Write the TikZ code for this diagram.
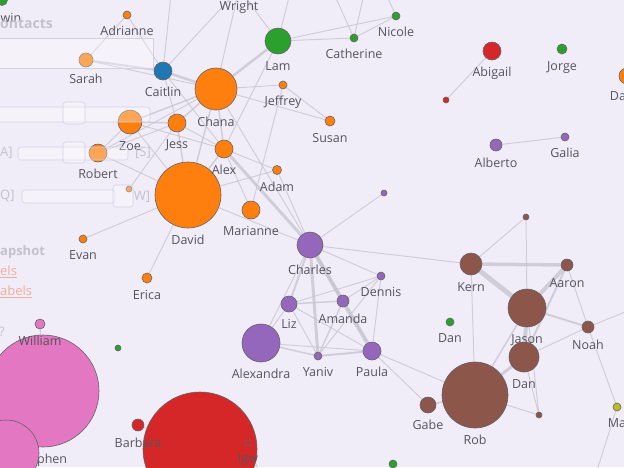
\documentclass[tikz,border=0pt]{standalone}
\usepackage{xcolor}
\usepackage{fontspec}
\setmainfont{Open Sans}
\usepackage{tikz}
\usetikzlibrary{positioning}

\definecolor{canvas}{RGB}{241,237,248}
\definecolor{edgegray}{RGB}{198,194,208}
\definecolor{ink}{RGB}{85,84,92}
\definecolor{rim}{RGB}{100,98,104}
\definecolor{ctorange}{RGB}{255,127,14}
\definecolor{ctblue}{RGB}{31,119,180}
\definecolor{ctgreen}{RGB}{44,160,44}
\definecolor{ctred}{RGB}{214,39,40}
\definecolor{ctpurple}{RGB}{148,103,189}
\definecolor{ctbrown}{RGB}{140,86,75}
\definecolor{ctpink}{RGB}{227,119,194}
\definecolor{ctolive}{RGB}{188,189,34}
\definecolor{uitext}{RGB}{196,192,204}
\definecolor{uiline}{RGB}{208,210,230}
\definecolor{uilink}{RGB}{242,172,160}

\pgfdeclarelayer{bg}
\pgfdeclarelayer{front}
\pgfsetlayers{bg,main,front}

\tikzset{
  person/.style={circle, draw=rim, line width=0.6pt, inner sep=0pt, fill=#1},
  lbl/.style={font=\fontsize{12.5}{14}\selectfont, text=ink, inner sep=0pt,
    text height=9pt, text depth=3pt, label distance=7pt},
  link/.style={draw=edgegray, line width=#1, opacity=0.75},
  link/.default=1pt,
  uibar/.style={draw=uiline, fill=white, fill opacity=0.3, line width=0.6pt, rounded corners=3pt},
  uitxt/.style={text=uitext, inner sep=0pt, font=\fontsize{13}{15}\selectfont}
}

\begin{document}
\begin{tikzpicture}[x=1pt, y=-1pt]
\useasboundingbox (0,0) rectangle (624,467);

% big circles first, so smaller ones and their labels sit on top
\node[person=ctpink, minimum size=112pt, label={[lbl]below:Stephen}] (stephen) at (43,391) {};
\node[person=ctpink, minimum size=66pt] (pinklow) at (6,453) {};
\node[person=ctred, minimum size=114pt] (redbig) at (200,449) {};
\node[person=ctbrown, minimum size=66pt, label={[lbl]below:Rob}] (rob) at (475,395) {};
\node[person=ctorange, minimum size=66pt, label={[lbl]below:David}] (david) at (188,195) {};
\node[person=ctorange, minimum size=42pt, label={[lbl]below:Chana}] (chana) at (216,89) {};
\node[person=ctpurple, minimum size=38pt, label={[lbl]below:Alexandra}] (alexandra) at (261,343) {};
\node[person=ctbrown, minimum size=38pt, label={[lbl]below:Jason}] (jason) at (527,308) {};
\node[person=ctbrown, minimum size=30pt, label={[lbl]below:Dan}] (danb) at (524,357) {};
\node[person=ctgreen, minimum size=26pt, label={[lbl]below:Lam}] (lam) at (278,41) {};
\node[person=ctpurple, minimum size=26pt, label={[lbl]below:Charles}] (charles) at (310,245) {};
\node[person=ctorange, minimum size=24pt, label={[lbl]below:Zoe}] (zoe) at (130,122) {};
\node[person=ctbrown, minimum size=22pt, label={[lbl]below:Kern}] (kern) at (471,264) {};
\node[person=ctblue, minimum size=18pt, label={[lbl]below:Caitlin}] (caitlin) at (163,71) {};
\node[person=ctorange, minimum size=18pt, label={[lbl]below:Jess}] (jess) at (177,123) {};
\node[person=ctorange, minimum size=18pt, label={[lbl]below:Robert}] (robert) at (98,153) {};
\node[person=ctorange, minimum size=18pt, label={[lbl]below:Alex}] (alex) at (224,149) {};
\node[person=ctorange, minimum size=18pt, label={[lbl]below:Marianne}] (marianne) at (251,210) {};
\node[person=ctpurple, minimum size=18pt, label={[lbl]below:Paula}] (paula) at (372,351) {};
\node[person=ctred, minimum size=18pt, label={[lbl]below:Abigail}] (abigail) at (492,51) {};
\node[person=ctpurple, minimum size=16pt, label={[lbl]below:Liz}] (liz) at (289,304) {};
\node[person=ctbrown, minimum size=16pt, label={[lbl]below:Gabe}] (gabe) at (428,405) {};
\node[person=ctorange, minimum size=14pt, label={[lbl]below:Sarah}] (sarah) at (86,60) {};
\node[person=ctorange, minimum size=16pt, label={[lbl,xshift=-9pt]below:Da}] (dave) at (627,76) {};
\node[person=ctbrown, minimum size=12pt, label={[lbl]below:Aaron}] (aaron) at (567,265) {};
\node[person=ctbrown, minimum size=12pt, label={[lbl]below:Noah}] (noah) at (588,327) {};
\node[person=ctpurple, minimum size=12pt, label={[lbl]below:Amanda}] (amanda) at (343,301) {};
\node[person=ctpurple, minimum size=12pt, label={[lbl]below:Alberto}] (alberto) at (496,145) {};
\node[person=ctred, minimum size=12pt, label={[lbl]below:Barbara}] (barbara) at (138,425) {};
\node[person=ctpink, minimum size=10pt, label={[lbl]below:William}] (william) at (40,324) {};
\node[person=ctorange, minimum size=10pt, label={[lbl]below:Erica}] (erica) at (147,278) {};
\node[person=ctorange, minimum size=10pt, label={[lbl]below:Susan}] (susan) at (330,121) {};
\node[person=ctgreen, minimum size=10pt, label={[lbl]below:Jorge}] (jorge) at (562,49) {};
\node[person=ctgreen, minimum size=11pt, label={[lbl,xshift=9pt]below:win}] (edwin) at (2,0) {};
\node[person=ctorange, minimum size=10pt, label={[lbl]below:Wright}] (wright) at (239,-11) {};
\node[person=ctorange, minimum size=8pt, label={[lbl]below:Jeffrey}] (jeffrey) at (283,85) {};
\node[person=ctorange, minimum size=9pt, label={[lbl]below:Adam}] (adam) at (277,170) {};
\node[person=ctorange, minimum size=8pt, label={[lbl]below:Adrianne}] (adrianne) at (127,15) {};
\node[person=ctgreen, minimum size=8pt, label={[lbl]below:Catherine}] (catherine) at (354,38) {};
\node[person=ctgreen, minimum size=8pt, label={[lbl]below:Nicole}] (nicole) at (396,16) {};
\node[person=ctorange, minimum size=8pt, label={[lbl]below:Evan}] (evan) at (83,239) {};
\node[person=ctpurple, minimum size=8pt, label={[lbl]below:Dennis}] (dennis) at (381,276) {};
\node[person=ctpurple, minimum size=8pt, label={[lbl]below:Yaniv}] (yaniv) at (318,356) {};
\node[person=ctpurple, minimum size=8pt, label={[lbl]below:Galia}] (galia) at (565,137) {};
\node[person=ctgreen, minimum size=8pt, label={[lbl]below:Dan}] (dang) at (450,322) {};
\node[person=ctolive, minimum size=8pt, label={[lbl]below:Ma}] (mark) at (617,407) {};
\node[person=ctred, minimum size=6pt, label={[lbl]below:Igw}] (igw) at (248,443) {};
\node[person=ctorange, minimum size=6pt] (smallo) at (129,189) {};
\node[person=ctpurple, minimum size=6pt] (smallp) at (384,193) {};
\node[person=ctred, minimum size=6pt] (smallr) at (446,100) {};
\node[person=ctbrown, minimum size=6pt] (smallb) at (526,217) {};
\node[person=ctbrown, minimum size=6pt] (smallbb) at (539,415) {};
\node[person=ctgreen, minimum size=6pt] (smallg) at (118,348) {};
\node[person=ctgreen, minimum size=8pt] (greenlow) at (393,464) {};

% loose ends running out of the frame
\coordinate (topa) at (172,-15);
\coordinate (topb) at (292,-15);
\coordinate (topc) at (330,-15);
\coordinate (topd) at (366,-15);
\coordinate (tope) at (382,-15);
\coordinate (righte) at (640,306);
\coordinate (bottoma) at (594,480);
\coordinate (bottomb) at (262,480);

\begin{pgfonlayer}{bg}
\fill[canvas] (0,0) rectangle (624,467);
% orange / green group
\draw[link] (adrianne) -- (sarah) (adrianne) -- (caitlin) (sarah) -- (chana)
  (caitlin) -- (topa) (caitlin) -- (wright) (caitlin) -- (jess) (caitlin) -- (alex);
\draw[link=2pt] (sarah) -- (caitlin);
\draw[link=2.5pt] (caitlin) -- (chana) (chana) -- (lam);
\draw[link] (chana) -- (wright) (lam) -- (wright) (lam) -- (topb) (lam) -- (catherine)
  (lam) -- (nicole) (catherine) -- (nicole) (catherine) -- (topc) (catherine) -- (topd)
  (nicole) -- (tope) (lam) -- (alex);
\draw[link] (chana) -- (jeffrey) (chana) -- (susan) (jeffrey) -- (susan) (jeffrey) -- (marianne)
  (chana) -- (robert) (chana) -- (charles);
\draw[link=1.5pt] (chana) -- (zoe) (chana) -- (jess) (chana) -- (alex) (chana) -- (david);
\draw[link] (zoe) -- (robert) (zoe) -- (david) (zoe) -- (alex) (jess) -- (alex)
  (jess) -- (robert) (robert) -- (david) (smallo) -- (jess);
\draw[link=1.5pt] (zoe) -- (jess) (jess) -- (david) (alex) -- (david);
\draw[link] (alex) -- (adam) (alex) -- (marianne) (david) -- (adam) (david) -- (charles)
  (david) -- (evan) (david) -- (erica) (adam) -- (charles);
\draw[link=3pt] (alex) -- (charles);
% purple group
\draw[link] (charles) -- (smallp) (charles) -- (kern) (charles) -- (dennis) (charles) -- (alexandra);
\draw[link=2pt] (charles) -- (liz) (charles) -- (amanda);
\draw[link=3pt] (charles) -- (yaniv);
\draw[link=4pt] (charles) -- (paula);
\draw[link] (liz) -- (dennis) (liz) -- (alexandra) (liz) -- (yaniv) (liz) -- (paula)
  (amanda) -- (dennis) (amanda) -- (paula) (alexandra) -- (paula) (yaniv) -- (dennis)
  (dennis) -- (paula) (paula) -- (gabe) (paula) -- (rob);
\draw[link=1.5pt] (liz) -- (amanda) (amanda) -- (yaniv) (alexandra) -- (yaniv);
\draw[link=2pt] (yaniv) -- (paula);
% brown group
\draw[link] (kern) -- (smallb) (smallb) -- (jason) (kern) -- (rob) (aaron) -- (noah)
  (noah) -- (danb) (noah) -- (righte) (noah) -- (mark) (mark) -- (bottoma)
  (rob) -- (smallbb) (danb) -- (smallbb) (jason) -- (smallbb);
\draw[link=3.5pt] (kern) -- (aaron);
\draw[link=5pt] (kern) -- (jason);
\draw[link=4pt] (aaron) -- (jason) (jason) -- (danb);
\draw[link=2pt] (aaron) -- (danb) (jason) -- (noah);
\draw[link=1.5pt] (jason) -- (rob) (rob) -- (gabe);
\draw[link=3pt] (danb) -- (rob);
% the rest
\draw[link] (abigail) -- (smallr) (alberto) -- (galia) (william) -- (stephen)
  (barbara) -- (redbig) (igw) -- (bottomb);
\end{pgfonlayer}

% faded side panel over the graph
\begin{pgfonlayer}{front}
\node[uitxt, anchor=west, font=\fontsize{14}{16}\selectfont\bfseries] (ttl) at (0,24) {ontacts};
\draw[uibar, rounded corners=0pt] (-5,38) rectangle (153,68);
\draw[uibar] (-5,107) rectangle (150,122);
\draw[uibar] (63,102) rectangle (85,124);
\node[uitxt, anchor=west] (keya) at (0,153) {A]};
\draw[uibar] (18,147) rectangle (128,160);
\draw[uibar] (63,142) rectangle (85,163);
\node[uitxt] (keys) at (143,153) {[S]};
\node[uitxt, anchor=west] (keyq) at (0,196) {Q]};
\draw[uibar] (22,190) rectangle (115,203);
\draw[uibar] (113,185) rectangle (133,207);
\node[uitxt] (keyw) at (142,197) {W]};
\node[uitxt, anchor=west, font=\fontsize{13}{15}\selectfont\bfseries] (snap) at (0,252) {apshot};
\node[uitxt, anchor=west, text=uilink] (lnka) at (0,272) {\underline{els}};
\node[uitxt, anchor=west, text=uilink] (lnkb) at (0,292) {\underline{abels}};
\node[uitxt, anchor=west] (help) at (-1,332) {?};
\end{pgfonlayer}
\end{tikzpicture}
\end{document}
